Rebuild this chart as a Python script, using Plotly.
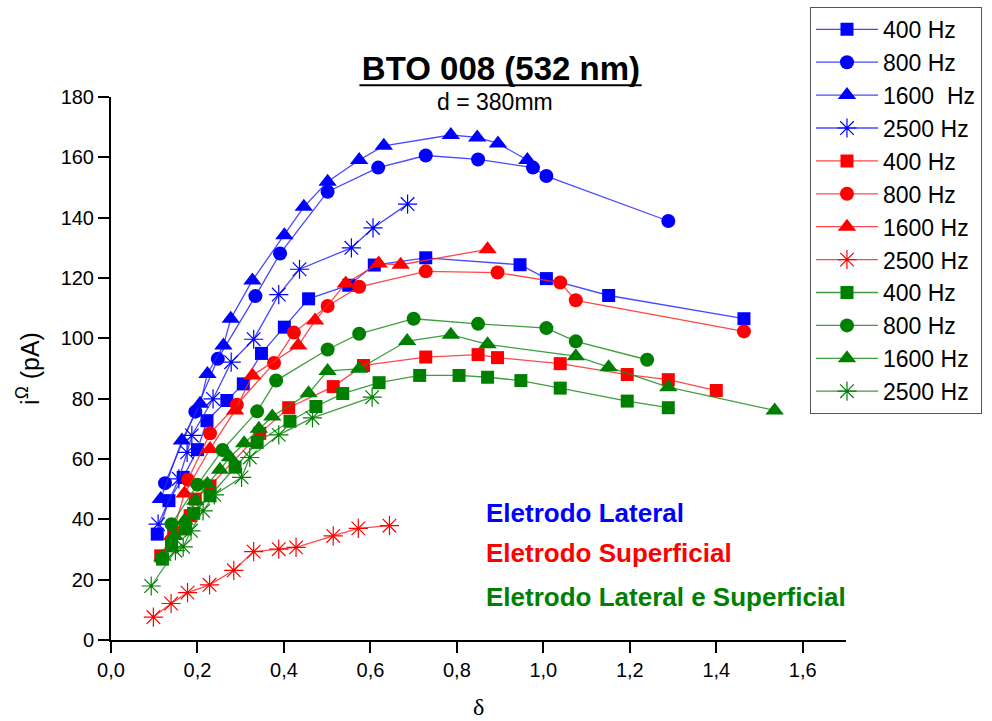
import plotly.graph_objects as go

# ---------------- data (delta, i in pA) ----------------
# Eletrodo Lateral (blue)
lat_400_x = [0.107, 0.134, 0.167, 0.200, 0.222, 0.268, 0.306, 0.348, 0.401, 0.457, 0.550, 0.609, 0.728, 0.946, 1.007, 1.151, 1.464]
lat_400_y = [35.1, 46.2, 53.9, 63.1, 72.7, 79.4, 84.9, 95.0, 103.7, 113.1, 117.6, 124.3, 126.7, 124.4, 119.8, 114.2, 106.5]
lat_800_x = [0.125, 0.195, 0.247, 0.334, 0.391, 0.501, 0.618, 0.728, 0.849, 0.976, 1.007, 1.289]
lat_800_y = [52.0, 75.7, 93.2, 114.0, 128.1, 148.6, 156.6, 160.6, 159.3, 156.6, 153.8, 138.9]
lat_1600_x = [0.115, 0.164, 0.206, 0.223, 0.260, 0.277, 0.327, 0.401, 0.446, 0.501, 0.574, 0.631, 0.786, 0.847, 0.895, 0.963]
lat_1600_y = [46.7, 66.1, 78.3, 88.2, 97.6, 106.5, 119.2, 134.2, 143.6, 151.9, 159.1, 163.8, 167.4, 166.6, 164.6, 159.1]
lat_2500_x = [0.109, 0.157, 0.176, 0.187, 0.236, 0.278, 0.330, 0.388, 0.436, 0.556, 0.606, 0.686]
lat_2500_y = [38.4, 53.4, 62.2, 67.8, 79.9, 92.1, 99.7, 114.5, 122.9, 130.0, 136.6, 144.5]

# Eletrodo Superficial (red)
sup_400_x = [0.115, 0.145, 0.183, 0.195, 0.229, 0.344, 0.411, 0.514, 0.584, 0.728, 0.849, 0.894, 1.039, 1.194, 1.289, 1.400]
sup_400_y = [27.9, 35.6, 41.2, 46.7, 51.1, 68.5, 77.0, 84.0, 91.0, 93.8, 94.6, 93.6, 91.6, 88.0, 86.3, 82.7]
sup_800_x = [0.178, 0.229, 0.291, 0.377, 0.423, 0.501, 0.574, 0.728, 0.894, 1.039, 1.075, 1.464]
sup_800_y = [53.1, 68.5, 78.0, 91.8, 101.9, 110.7, 117.1, 122.2, 121.8, 118.5, 112.6, 102.3]
sup_1600_x = [0.141, 0.170, 0.229, 0.287, 0.327, 0.433, 0.472, 0.543, 0.619, 0.670, 0.871]
sup_1600_y = [34.5, 48.6, 63.3, 76.1, 87.7, 97.6, 105.9, 118.2, 124.8, 124.4, 129.5]
sup_2500_x = [0.098, 0.139, 0.177, 0.228, 0.284, 0.330, 0.388, 0.428, 0.514, 0.572, 0.644]
sup_2500_y = [7.6, 12.1, 15.7, 18.3, 23.1, 29.3, 30.1, 30.7, 34.5, 37.0, 37.9]

# Eletrodo Lateral e Superficial (green)
ls_400_x = [0.119, 0.140, 0.172, 0.191, 0.229, 0.287, 0.338, 0.414, 0.474, 0.536, 0.620, 0.714, 0.805, 0.871, 0.948, 1.039, 1.194, 1.289]
ls_400_y = [26.8, 31.2, 36.8, 42.0, 47.8, 57.3, 65.5, 72.5, 77.4, 81.7, 85.3, 87.7, 87.7, 87.1, 86.0, 83.5, 79.2, 77.0]
ls_800_x = [0.140, 0.200, 0.258, 0.338, 0.382, 0.501, 0.574, 0.700, 0.849, 1.007, 1.075, 1.240]
ls_800_y = [38.4, 51.5, 63.0, 75.8, 86.0, 96.3, 101.5, 106.5, 104.8, 103.4, 99.0, 92.9]
ls_1600_x = [0.119, 0.147, 0.170, 0.195, 0.223, 0.252, 0.275, 0.308, 0.342, 0.373, 0.457, 0.501, 0.574, 0.685, 0.786, 0.871, 1.075, 1.151, 1.289, 1.535]
ls_1600_y = [27.6, 34.5, 39.5, 46.2, 51.7, 56.4, 60.6, 65.2, 70.0, 74.1, 81.8, 89.2, 89.9, 99.1, 101.2, 98.0, 94.1, 90.4, 83.8, 76.1]
ls_2500_x = [0.093, 0.149, 0.167, 0.185, 0.213, 0.239, 0.302, 0.321, 0.388, 0.466, 0.604]
ls_2500_y = [17.9, 29.6, 30.9, 36.2, 42.8, 48.1, 53.9, 60.5, 68.0, 73.6, 80.5]

legend_names = ["400 Hz", "800 Hz", "1600\u00a0\u00a0Hz", "2500 Hz",
                "400 Hz", "800 Hz", "1600 Hz", "2500 Hz",
                "400 Hz", "800 Hz", "1600 Hz", "2500 Hz"]
x_ticks = [0.0, 0.2, 0.4, 0.6, 0.8, 1.0, 1.2, 1.4, 1.6]
y_ticks = [0, 20, 40, 60, 80, 100, 120, 140, 160, 180]

series = [
    (lat_400_x, lat_400_y), (lat_800_x, lat_800_y), (lat_1600_x, lat_1600_y), (lat_2500_x, lat_2500_y),
    (sup_400_x, sup_400_y), (sup_800_x, sup_800_y), (sup_1600_x, sup_1600_y), (sup_2500_x, sup_2500_y),
    (ls_400_x, ls_400_y), (ls_800_x, ls_800_y), (ls_1600_x, ls_1600_y), (ls_2500_x, ls_2500_y),
]

BLUE, RED, GREEN = "#0000FF", "#FF0000", "#008000"
LINE_C = {BLUE: "rgba(40,40,255,0.85)", RED: "rgba(255,40,40,0.85)", GREEN: "rgba(30,140,30,0.85)"}
colors = [BLUE] * 4 + [RED] * 4 + [GREEN] * 4
symbols = ["square", "circle", "triangle-up", "asterisk-open"] * 3
sizes = [13, 14, 16, 16] * 3

FONT = "Arial, 'Liberation Sans', sans-serif"

fig = go.Figure()
for (xs, ys), name, c, sym, sz in zip(series, legend_names, colors, symbols, sizes):
    is_star = sym == "asterisk-open"
    fig.add_trace(go.Scatter(
        x=xs, y=ys, mode="lines+markers", name=name,
        line=dict(color=LINE_C[c], width=1.3),
        marker=dict(symbol=sym, size=sz, color=c,
                    line=dict(color=c, width=1.2 if is_star else 0)),
    ))

fig.update_layout(
    width=992, height=721,
    margin=dict(l=111, r=146, t=97, b=81, autoexpand=False),
    paper_bgcolor="white", plot_bgcolor="white",
    font=dict(family=FONT, color="black", size=20),
    separators=",.",
    title=dict(text="<b>BTO 008 (532 nm)</b>",
               x=0.505, xanchor="center", y=0.905, yanchor="middle", yref="container",
               font=dict(family=FONT, size=33, color="black")),
    legend=dict(x=0.951, xanchor="left", y=1.166, yanchor="top",
                bgcolor="white", bordercolor="#555555", borderwidth=1,
                font=dict(family=FONT, size=23, color="black"),
                itemwidth=62, tracegroupgap=0, maxheight=440),
    showlegend=True,
)

# underline of the title
fig.add_shape(type="line", xref="paper", yref="paper", x0=0.338, x1=0.722, y0=1.0215, y1=1.0215,
              line=dict(color="black", width=2))

fig.update_xaxes(
    range=[0, 1.70], tickvals=x_ticks, tickformat=".1f", automargin=False,
    showgrid=False, zeroline=False, showline=True, linecolor="black", linewidth=2,
    ticks="outside", ticklen=11, tickwidth=2, tickcolor="black",
    tickfont=dict(family=FONT, size=20),
)
fig.update_yaxes(
    range=[0, 180], tickvals=y_ticks, automargin=False,
    showgrid=False, zeroline=False, showline=True, linecolor="black", linewidth=2,
    ticks="outside", ticklen=11, tickwidth=2, tickcolor="black",
    tickfont=dict(family=FONT, size=20),
    title=dict(text="i<sup>Ω</sup> (pA)", font=dict(family=FONT, size=25), standoff=14),
)

# x-axis title
fig.add_annotation(text="δ", xref="paper", yref="paper", x=0.5, y=-0.124,
                   xanchor="center", yanchor="middle", showarrow=False,
                   font=dict(family="'Liberation Serif', serif", size=24, color="black"))

fig.add_annotation(text="d = 380mm", xref="paper", yref="paper", x=0.522, y=0.990,
                   xanchor="center", yanchor="middle", showarrow=False,
                   font=dict(family=FONT, size=23, color="black"))
for txt, yy, c in [("Eletrodo Lateral", 0.234, BLUE),
                   ("Eletrodo Superficial", 0.161, RED),
                   ("Eletrodo Lateral e Superficial", 0.079, GREEN)]:
    fig.add_annotation(text="<b>" + txt + "</b>", xref="paper", yref="paper", x=0.508, y=yy,
                       xanchor="left", yanchor="middle", showarrow=False,
                       font=dict(family=FONT, size=26, color=c))

fig.write_html("out.html")
